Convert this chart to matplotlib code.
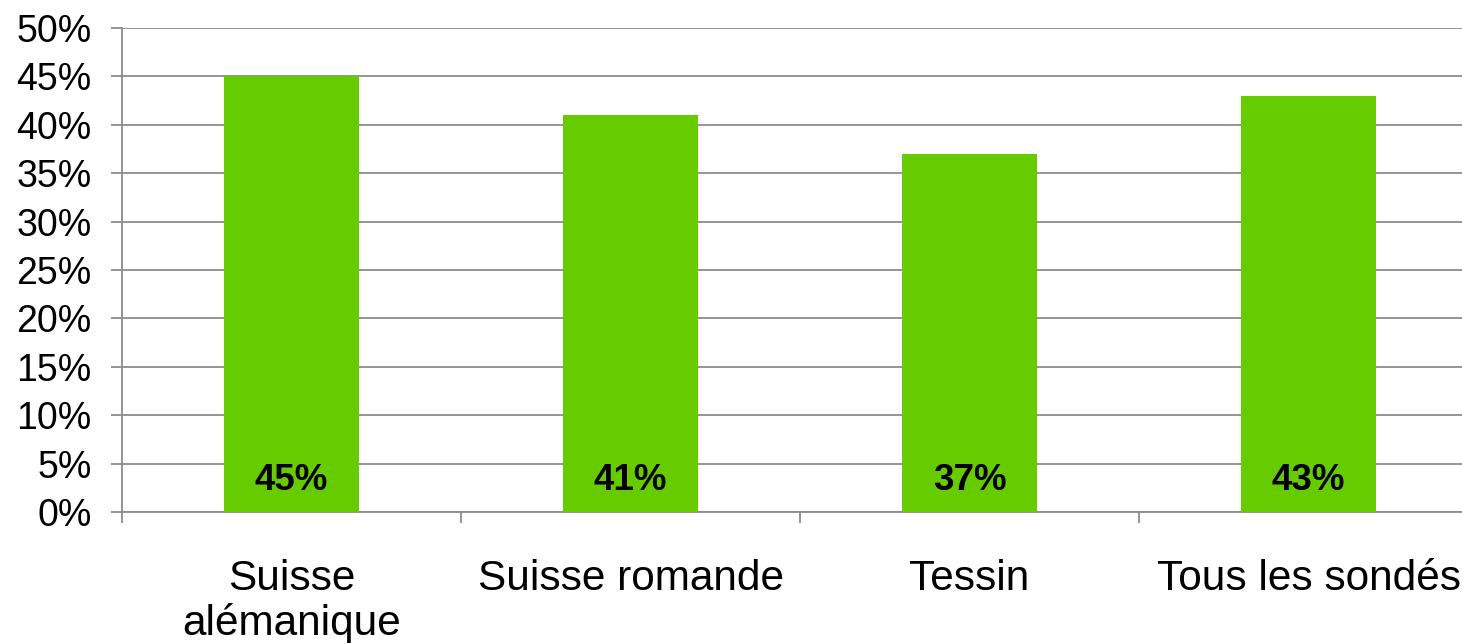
import matplotlib.pyplot as plt
import numpy as np

plt.rcParams['font.family'] = ['Liberation Sans', 'DejaVu Sans']

categories = ["Suisse\nalémanique", "Suisse romande", "Tessin", "Tous les sondés"]
values = [45, 41, 37, 43]
value_labels = ["45%", "41%", "37%", "43%"]
yticks = [0, 5, 10, 15, 20, 25, 30, 35, 40, 45, 50]

green = '#66CC00'
grey = '#8C8C8C'

fig = plt.figure(figsize=(14.62, 6.43), dpi=100)
ax = fig.add_axes([122 / 1462, (643 - 512) / 643, (1462 - 122) / 1462, (512 - 28) / 643])

x = np.arange(len(categories))
ax.bar(x, values, width=0.4, color=green, zorder=3)

for xi, lab in zip(x, value_labels):
    ax.annotate(lab, (xi, 0), xytext=(0, 23), textcoords='offset points',
                ha='center', va='center', fontsize=26.5, fontweight='bold', zorder=4)

ax.set_ylim(0, 50)
ax.set_xlim(-0.5, -0.5 + (1462 - 122) / 339)
ax.set_yticks(yticks)
ax.set_yticklabels([f"{v}%" for v in yticks], fontsize=27)
ax.yaxis.grid(True, color=grey, linewidth=1.3, zorder=0)
ax.tick_params(axis='y', length=8, width=1.3, color=grey, pad=14)

# boundaries get tick marks, centres get the labels
ax.set_xticks(np.arange(len(categories)) - 0.5)
ax.set_xticklabels([])
ax.tick_params(axis='x', which='major', length=8, width=1.3, color=grey)
ax.set_xticks(x, minor=True)
ax.set_xticklabels(categories, minor=True, fontsize=30.5, linespacing=1.12)
ax.tick_params(axis='x', which='minor', length=0, pad=34)

for side in ['top', 'right']:
    ax.spines[side].set_visible(False)
for side in ['left', 'bottom']:
    ax.spines[side].set_color(grey)
    ax.spines[side].set_linewidth(1.3)
ax.set_axisbelow(True)

fig.savefig('out.png', dpi=100)
